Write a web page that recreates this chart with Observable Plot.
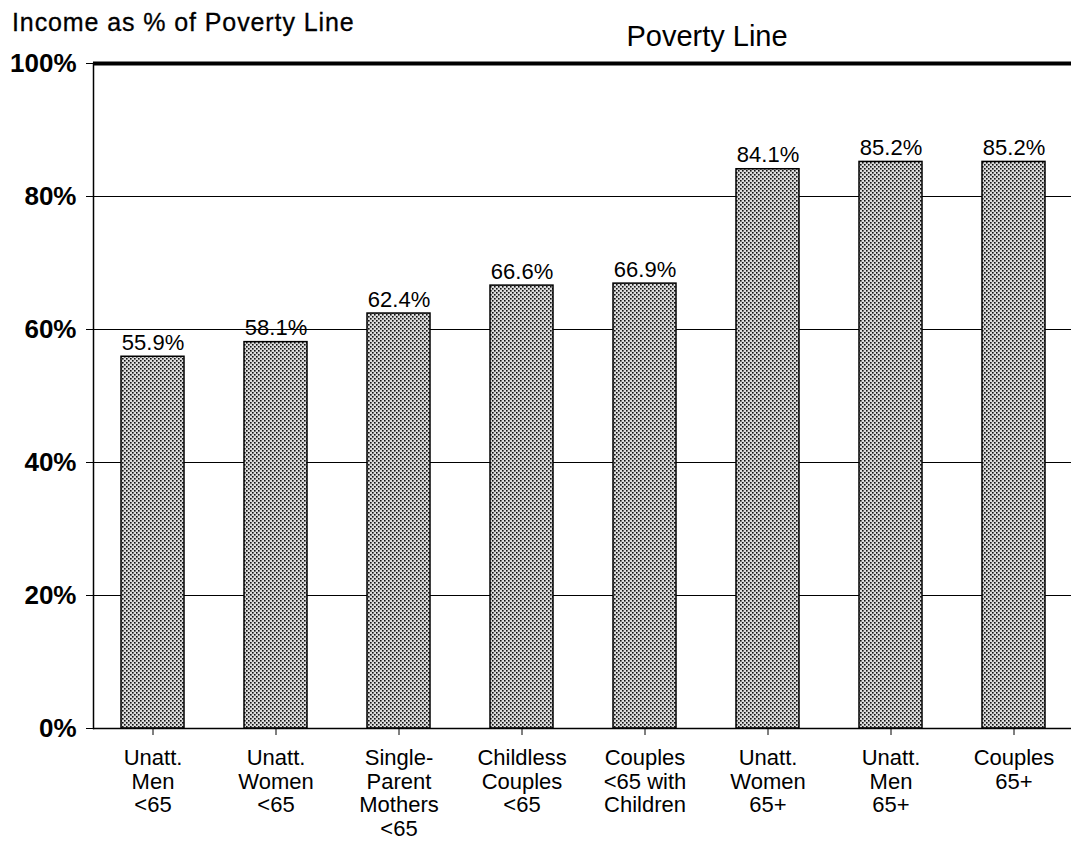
<!DOCTYPE html>
<html>
<head>
<meta charset="utf-8">
<script src="https://cdn.jsdelivr.net/npm/d3@7"></script>
<script src="https://cdn.jsdelivr.net/npm/@observablehq/plot@0.6"></script>
<style>
  body { margin: 0; background: white; font-family: "Liberation Sans", Arial, sans-serif; overflow: hidden; }
  #title { height: 40px; box-sizing: border-box; padding: 10px 0 0 12px; font-size: 25px; line-height: 25px; letter-spacing: 0.9px; color: #000; -webkit-text-stroke: 0.3px #000; }
  #chart svg { overflow: visible; display: block; }
</style>
</head>
<body>
<div id="title">Income as % of Poverty Line</div>
<div id="chart"></div>
<script>
// Household groups (multi-line labels) and income as % of the poverty line
const categories = [
  "Unatt.\nMen\n<65",
  "Unatt.\nWomen\n<65",
  "Single-\nParent\nMothers\n<65",
  "Childless\nCouples\n<65",
  "Couples\n<65 with\nChildren",
  "Unatt.\nWomen\n65+",
  "Unatt.\nMen\n65+",
  "Couples\n65+"
];
const values = [55.9, 58.1, 62.4, 66.6, 66.9, 84.1, 85.2, 85.2];
const yTicks = [0, 20, 40, 60, 80, 100];
const gridLines = [20, 40, 60, 80];
const povertyLine = 100;
const povertyLabel = "Poverty Line";

const data = categories.map((c, i) => ({category: c, value: values[i]}));
const font = "'Liberation Sans', Arial, sans-serif";

const plot = Plot.plot({
  width: 1071,
  height: 802,
  marginLeft: 93,
  marginRight: 0,
  marginTop: 23,
  marginBottom: 114,
  style: {fontFamily: font, color: "#000", background: "white", overflow: "visible"},
  x: {domain: categories, range: [90, 1077], paddingInner: 0.485, paddingOuter: 0.2425},
  y: {domain: [0, 100], range: [688, 23]},
  marks: [
    Plot.ruleY(gridLines, {stroke: "#000", strokeWidth: 1}),
    Plot.ruleY([povertyLine], {stroke: "#000", strokeWidth: 4}),
    Plot.barY(data, {x: "category", y: "value", fill: "url(#stipple)", stroke: "#000", strokeWidth: 1.5}),
    Plot.ruleY([0], {stroke: "#000", strokeWidth: 1.5}),
    Plot.frame({anchor: "left", stroke: "#000", strokeWidth: 1.5}),
    Plot.text(data, {x: "category", y: "value", text: d => d.value.toFixed(1) + "%", lineAnchor: "bottom", dy: -7, fontSize: 22, fontFamily: font, fill: "#000"}),
    Plot.text([povertyLabel], {x: [categories[4]], y: [povertyLine], text: d => d, dx: 62, dy: -18, lineAnchor: "bottom", fontSize: 29, fontFamily: font, fill: "#000"}),
    Plot.axisY({ticks: yTicks, tickFormat: d => d + "%", tickSize: 7, tickPadding: 10, fontSize: 26, fontWeight: "bold", fontFamily: font, label: null, stroke: "#000"}),
    Plot.axisX({tickSize: 7, tickPadding: 13, fontSize: 22, lineHeight: 1.07, fontFamily: font, label: null, stroke: "#000"})
  ]
});

// stipple fill for the bars
const svg = d3.select(plot);
const defs = svg.insert("defs", ":first-child");
const pat = defs.append("pattern")
  .attr("id", "stipple")
  .attr("patternUnits", "userSpaceOnUse")
  .attr("width", 4).attr("height", 4);
pat.append("rect").attr("width", 4).attr("height", 4).attr("fill", "#dcdcdc");
pat.append("rect").attr("x", 0).attr("y", 0).attr("width", 1.6).attr("height", 1.6).attr("fill", "#111");
pat.append("rect").attr("x", 2).attr("y", 2).attr("width", 1.6).attr("height", 1.6).attr("fill", "#111");

document.getElementById("chart").appendChild(plot);
</script>
</body>
</html>
